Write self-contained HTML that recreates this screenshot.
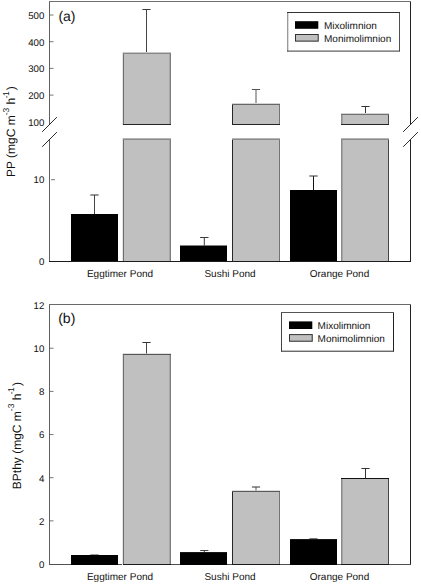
<!DOCTYPE html>
<html><head><meta charset="utf-8"><style>
html,body{margin:0;padding:0;background:#fff;}
body{width:421px;height:584px;overflow:hidden;}
svg{display:block;font-family:"Liberation Sans", sans-serif;fill:#111;}
text{fill:#111;text-rendering:geometricPrecision;}
</style></head><body>
<svg width="421" height="584" viewBox="0 0 421 584">
<line x1="49.5" y1="1.0" x2="49.5" y2="124.5" stroke="#606060" stroke-width="1"/>
<line x1="410.5" y1="1.0" x2="410.5" y2="124.5" stroke="#222" stroke-width="1"/>
<line x1="49.5" y1="139.5" x2="49.5" y2="262.0" stroke="#606060" stroke-width="1"/>
<line x1="410.5" y1="139.5" x2="410.5" y2="262.0" stroke="#222" stroke-width="1"/>
<line x1="49.0" y1="1.5" x2="411.0" y2="1.5" stroke="#707070" stroke-width="1"/>
<line x1="49.0" y1="261.5" x2="411.0" y2="261.5" stroke="#1c1c1c" stroke-width="1"/>
<line x1="42.2" y1="131.8" x2="56.9" y2="117.1" stroke="#2a2a2a" stroke-width="1"/>
<line x1="42.2" y1="146.8" x2="56.9" y2="132.1" stroke="#2a2a2a" stroke-width="1"/>
<line x1="403.2" y1="131.8" x2="417.9" y2="117.1" stroke="#2a2a2a" stroke-width="1"/>
<line x1="403.2" y1="146.8" x2="417.9" y2="132.1" stroke="#2a2a2a" stroke-width="1"/>
<line x1="50" y1="15" x2="53.5" y2="15" stroke="#777" stroke-width="1"/>
<text x="44.3" y="18.9" font-size="9.7" text-anchor="end" >500</text>
<line x1="50" y1="41.7" x2="53.5" y2="41.7" stroke="#777" stroke-width="1"/>
<text x="44.3" y="45.6" font-size="9.7" text-anchor="end" >400</text>
<line x1="50" y1="68.4" x2="53.5" y2="68.4" stroke="#777" stroke-width="1"/>
<text x="44.3" y="72.30000000000001" font-size="9.7" text-anchor="end" >300</text>
<line x1="50" y1="95.1" x2="53.5" y2="95.1" stroke="#777" stroke-width="1"/>
<text x="44.3" y="99.0" font-size="9.7" text-anchor="end" >200</text>
<text x="44.3" y="125.7" font-size="9.7" text-anchor="end" >100</text>
<line x1="51" y1="179.7" x2="55" y2="179.7" stroke="#777" stroke-width="1"/>
<text x="44.3" y="183.39999999999998" font-size="9.7" text-anchor="end" >10</text>
<text x="44.3" y="264.7" font-size="9.7" text-anchor="end" >0</text>
<rect x="123" y="52" width="48" height="73" fill="#c0c0c0"/>
<line x1="123.5" y1="52" x2="123.5" y2="125" stroke="#6e6e6e" stroke-width="1"/>
<line x1="122.5" y1="52" x2="122.5" y2="125" stroke="#e4e4e4" stroke-width="1"/>
<line x1="170.5" y1="52" x2="170.5" y2="125" stroke="#7c7c7c" stroke-width="1"/>
<line x1="169.5" y1="52" x2="169.5" y2="125" stroke="#a8a8a8" stroke-width="1"/>
<line x1="123" y1="53.5" x2="171" y2="53.5" stroke="#888" stroke-width="1"/>
<line x1="123" y1="52.5" x2="171" y2="52.5" stroke="#c8c8c8" stroke-width="1"/>
<line x1="123" y1="124.5" x2="171" y2="124.5" stroke="#242424" stroke-width="1"/>
<rect x="123" y="138" width="48" height="123" fill="#c0c0c0"/>
<line x1="123.5" y1="138" x2="123.5" y2="261" stroke="#6e6e6e" stroke-width="1"/>
<line x1="122.5" y1="138" x2="122.5" y2="261" stroke="#e4e4e4" stroke-width="1"/>
<line x1="170.5" y1="138" x2="170.5" y2="261" stroke="#7c7c7c" stroke-width="1"/>
<line x1="169.5" y1="138" x2="169.5" y2="261" stroke="#a8a8a8" stroke-width="1"/>
<line x1="123" y1="139.5" x2="171" y2="139.5" stroke="#8a8a8a" stroke-width="1"/>
<line x1="123" y1="138.5" x2="171" y2="138.5" stroke="#b4b4b4" stroke-width="1"/>
<rect x="232" y="103" width="48" height="22" fill="#c0c0c0"/>
<line x1="232.5" y1="103" x2="232.5" y2="125" stroke="#262626" stroke-width="1"/>
<line x1="279.5" y1="103" x2="279.5" y2="125" stroke="#747474" stroke-width="1"/>
<line x1="232" y1="104.5" x2="280" y2="104.5" stroke="#666" stroke-width="1"/>
<line x1="232" y1="103.5" x2="280" y2="103.5" stroke="#d4d4d4" stroke-width="1"/>
<line x1="232" y1="124.5" x2="280" y2="124.5" stroke="#242424" stroke-width="1"/>
<rect x="232" y="138" width="48" height="123" fill="#c0c0c0"/>
<line x1="232.5" y1="138" x2="232.5" y2="261" stroke="#262626" stroke-width="1"/>
<line x1="279.5" y1="138" x2="279.5" y2="261" stroke="#747474" stroke-width="1"/>
<line x1="232" y1="139.5" x2="280" y2="139.5" stroke="#8a8a8a" stroke-width="1"/>
<line x1="232" y1="138.5" x2="280" y2="138.5" stroke="#b4b4b4" stroke-width="1"/>
<rect x="341" y="113" width="48" height="12" fill="#c0c0c0"/>
<line x1="341.5" y1="113" x2="341.5" y2="125" stroke="#8a8a8a" stroke-width="1"/>
<line x1="342.5" y1="113" x2="342.5" y2="125" stroke="#a4a4a4" stroke-width="1"/>
<line x1="388.5" y1="113" x2="388.5" y2="125" stroke="#464646" stroke-width="1"/>
<line x1="341" y1="114.5" x2="389" y2="114.5" stroke="#707070" stroke-width="1"/>
<line x1="341" y1="113.5" x2="389" y2="113.5" stroke="#d4d4d4" stroke-width="1"/>
<line x1="341" y1="124.5" x2="389" y2="124.5" stroke="#242424" stroke-width="1"/>
<rect x="341" y="138" width="48" height="123" fill="#c0c0c0"/>
<line x1="341.5" y1="138" x2="341.5" y2="261" stroke="#8a8a8a" stroke-width="1"/>
<line x1="342.5" y1="138" x2="342.5" y2="261" stroke="#a4a4a4" stroke-width="1"/>
<line x1="388.5" y1="138" x2="388.5" y2="261" stroke="#464646" stroke-width="1"/>
<line x1="341" y1="139.5" x2="389" y2="139.5" stroke="#8a8a8a" stroke-width="1"/>
<line x1="341" y1="138.5" x2="389" y2="138.5" stroke="#b4b4b4" stroke-width="1"/>
<rect x="71" y="214" width="47" height="47" fill="#000"/>
<rect x="180" y="245.5" width="47" height="15.5" fill="#000"/>
<rect x="290" y="190" width="47" height="71" fill="#000"/>
<line x1="94.5" y1="195" x2="94.5" y2="214" stroke="#444" stroke-width="1"/>
<line x1="90.3" y1="195" x2="98.7" y2="195" stroke="#333" stroke-width="1"/>
<line x1="146.5" y1="9.5" x2="146.5" y2="52" stroke="#444" stroke-width="1"/>
<line x1="142.4" y1="9.5" x2="150.6" y2="9.5" stroke="#3a3a3a" stroke-width="1"/>
<line x1="204.3" y1="237.5" x2="204.3" y2="245.5" stroke="#3a3a3a" stroke-width="1"/>
<line x1="200.10000000000002" y1="237.5" x2="208.5" y2="237.5" stroke="#3a3a3a" stroke-width="1"/>
<line x1="256" y1="89.5" x2="256" y2="103" stroke="#555" stroke-width="1"/>
<line x1="251.9" y1="89.5" x2="260.1" y2="89.5" stroke="#555" stroke-width="1"/>
<line x1="313.5" y1="176" x2="313.5" y2="190" stroke="#111" stroke-width="1"/>
<line x1="309.3" y1="176" x2="317.7" y2="176" stroke="#333" stroke-width="1"/>
<line x1="365.5" y1="106.5" x2="365.5" y2="113" stroke="#333" stroke-width="1"/>
<line x1="361.4" y1="106.5" x2="369.6" y2="106.5" stroke="#333" stroke-width="1"/>
<line x1="287.5" y1="12.5" x2="287.5" y2="51.2" stroke="#9a9a9a" stroke-width="1"/>
<line x1="288.5" y1="12.5" x2="288.5" y2="51.2" stroke="#dcdcdc" stroke-width="1"/>
<line x1="399.5" y1="12" x2="399.5" y2="51.2" stroke="#505050" stroke-width="1"/>
<line x1="287" y1="12.5" x2="400" y2="12.5" stroke="#333" stroke-width="1"/>
<line x1="287" y1="51.1" x2="400" y2="51.1" stroke="#383838" stroke-width="1"/>
<rect x="295" y="21.2" width="23.3" height="7.6" fill="#000"/>
<rect x="295" y="34.0" width="23.7" height="7.6" fill="#c0c0c0"/>
<rect x="295.5" y="34.5" width="22.7" height="6.6" fill="none" stroke="#333" stroke-width="1"/>
<text x="324" y="28.6" font-size="10" text-anchor="start" >Mixolimnion</text>
<text x="324" y="41.8" font-size="10" text-anchor="start" >Monimolimnion</text>
<text x="58.4" y="20.7" font-size="14" text-anchor="start" >(a)</text>
<text x="120.0" y="277" font-size="10" text-anchor="middle" >Eggtimer Pond</text>
<text x="230.0" y="277" font-size="10" text-anchor="middle" >Sushi Pond</text>
<text x="339.5" y="277" font-size="10" text-anchor="middle" >Orange Pond</text>
<text transform="translate(15.4,131.6) rotate(-90)" font-size="12" text-anchor="middle">PP (mgC m<tspan font-size="8.5" dy="-6.5">-3</tspan><tspan dy="6.5"> h</tspan><tspan font-size="8.5" dy="-6.5" dx="-0.6">-</tspan><tspan font-size="8.5" dx="-0.6">1</tspan><tspan dy="6.5" dx="1.2">)</tspan></text>
<line x1="49.5" y1="304.0" x2="49.5" y2="565.0" stroke="#606060" stroke-width="1"/>
<line x1="410.5" y1="304.0" x2="410.5" y2="565.0" stroke="#222" stroke-width="1"/>
<line x1="49.0" y1="304.5" x2="411.0" y2="304.5" stroke="#6a6a6a" stroke-width="1"/>
<line x1="49.0" y1="564.5" x2="411.0" y2="564.5" stroke="#505050" stroke-width="1"/>
<text x="44.3" y="567.8" font-size="9.7" text-anchor="end" >0</text>
<line x1="50" y1="520.85" x2="53.5" y2="520.85" stroke="#777" stroke-width="1"/>
<text x="44.3" y="524.65" font-size="9.7" text-anchor="end" >2</text>
<line x1="50" y1="477.7" x2="53.5" y2="477.7" stroke="#777" stroke-width="1"/>
<text x="44.3" y="481.5" font-size="9.7" text-anchor="end" >4</text>
<line x1="50" y1="434.55" x2="53.5" y2="434.55" stroke="#777" stroke-width="1"/>
<text x="44.3" y="438.35" font-size="9.7" text-anchor="end" >6</text>
<line x1="50" y1="391.4" x2="53.5" y2="391.4" stroke="#777" stroke-width="1"/>
<text x="44.3" y="395.2" font-size="9.7" text-anchor="end" >8</text>
<line x1="50" y1="348.25" x2="53.5" y2="348.25" stroke="#777" stroke-width="1"/>
<text x="44.3" y="352.05" font-size="9.7" text-anchor="end" >10</text>
<text x="44.3" y="308.90000000000003" font-size="9.7" text-anchor="end" >12</text>
<rect x="123" y="353.5" width="48" height="211.5" fill="#c0c0c0"/>
<line x1="123.5" y1="353.5" x2="123.5" y2="565" stroke="#6e6e6e" stroke-width="1"/>
<line x1="122.5" y1="353.5" x2="122.5" y2="565" stroke="#e4e4e4" stroke-width="1"/>
<line x1="170.5" y1="353.5" x2="170.5" y2="565" stroke="#7c7c7c" stroke-width="1"/>
<line x1="169.5" y1="353.5" x2="169.5" y2="565" stroke="#a8a8a8" stroke-width="1"/>
<line x1="123" y1="354.5" x2="171" y2="354.5" stroke="#555" stroke-width="1"/>
<line x1="123" y1="353.5" x2="171" y2="353.5" stroke="#e0e0e0" stroke-width="1"/>
<line x1="123" y1="564.5" x2="171" y2="564.5" stroke="#1a1a1a" stroke-width="1"/>
<rect x="71" y="555" width="47" height="10" fill="#000"/>
<line x1="94.5" y1="554.5" x2="94.5" y2="555" stroke="#444" stroke-width="1"/>
<line x1="90.4" y1="554.5" x2="98.6" y2="554.5" stroke="#999" stroke-width="1"/>
<line x1="146.5" y1="342.5" x2="146.5" y2="353.5" stroke="#444" stroke-width="1"/>
<line x1="142.4" y1="342.5" x2="150.6" y2="342.5" stroke="#333" stroke-width="1"/>
<rect x="232" y="490.5" width="48" height="74.5" fill="#c0c0c0"/>
<line x1="232.5" y1="490.5" x2="232.5" y2="565" stroke="#262626" stroke-width="1"/>
<line x1="279.5" y1="490.5" x2="279.5" y2="565" stroke="#747474" stroke-width="1"/>
<line x1="232" y1="491.5" x2="280" y2="491.5" stroke="#5a5a5a" stroke-width="1"/>
<line x1="232" y1="490.5" x2="280" y2="490.5" stroke="#dcdcdc" stroke-width="1"/>
<line x1="232" y1="564.5" x2="280" y2="564.5" stroke="#1a1a1a" stroke-width="1"/>
<rect x="180" y="552.1" width="47" height="12.899999999999977" fill="#000"/>
<line x1="204.3" y1="550.5" x2="204.3" y2="552.1" stroke="#3a3a3a" stroke-width="1"/>
<line x1="200.20000000000002" y1="550.5" x2="208.4" y2="550.5" stroke="#444" stroke-width="1"/>
<line x1="256" y1="487" x2="256" y2="490.5" stroke="#555" stroke-width="1"/>
<line x1="251.9" y1="487" x2="260.1" y2="487" stroke="#333" stroke-width="1"/>
<rect x="341" y="478" width="48" height="87" fill="#c0c0c0"/>
<line x1="341.5" y1="478" x2="341.5" y2="565" stroke="#8a8a8a" stroke-width="1"/>
<line x1="342.5" y1="478" x2="342.5" y2="565" stroke="#a4a4a4" stroke-width="1"/>
<line x1="388.5" y1="478" x2="388.5" y2="565" stroke="#464646" stroke-width="1"/>
<line x1="341" y1="478.5" x2="389" y2="478.5" stroke="#111" stroke-width="1"/>
<line x1="341" y1="564.5" x2="389" y2="564.5" stroke="#1a1a1a" stroke-width="1"/>
<rect x="290" y="539.1" width="47" height="25.899999999999977" fill="#000"/>
<line x1="313.5" y1="538.5" x2="313.5" y2="539.1" stroke="#111" stroke-width="1"/>
<line x1="309.4" y1="538.5" x2="317.6" y2="538.5" stroke="#777" stroke-width="1"/>
<line x1="365.5" y1="468.5" x2="365.5" y2="478" stroke="#333" stroke-width="1"/>
<line x1="361.4" y1="468.5" x2="369.6" y2="468.5" stroke="#333" stroke-width="1"/>
<line x1="281.5" y1="312.5" x2="281.5" y2="351.4" stroke="#444" stroke-width="1"/>
<line x1="393.5" y1="312" x2="393.5" y2="351.4" stroke="#222" stroke-width="1"/>
<line x1="281" y1="312.5" x2="394" y2="312.5" stroke="#555" stroke-width="1"/>
<line x1="281" y1="351.2" x2="394" y2="351.2" stroke="#2a2a2a" stroke-width="1"/>
<rect x="289" y="321.4" width="23.3" height="7.6" fill="#000"/>
<rect x="289" y="334.1" width="23.7" height="7.6" fill="#c0c0c0"/>
<rect x="289.5" y="334.6" width="22.7" height="6.6" fill="none" stroke="#333" stroke-width="1"/>
<text x="317.6" y="328.8" font-size="10" text-anchor="start" >Mixolimnion</text>
<text x="317.6" y="342" font-size="10" text-anchor="start" >Monimolimnion</text>
<text x="58.2" y="322.5" font-size="14" text-anchor="start" >(b)</text>
<text x="120.0" y="580" font-size="10" text-anchor="middle" >Eggtimer Pond</text>
<text x="230.0" y="580" font-size="10" text-anchor="middle" >Sushi Pond</text>
<text x="339.5" y="580" font-size="10" text-anchor="middle" >Orange Pond</text>
<text transform="translate(20.9,435.6) rotate(-90)" font-size="12" text-anchor="middle">BPthy (mgC m<tspan font-size="8.5" dy="-6.5">-3</tspan><tspan dy="6.5"> h</tspan><tspan font-size="8.5" dy="-6.5" dx="-0.6">-</tspan><tspan font-size="8.5" dx="-0.6">1</tspan><tspan dy="6.5" dx="1.2">)</tspan></text>
</svg></body></html>
